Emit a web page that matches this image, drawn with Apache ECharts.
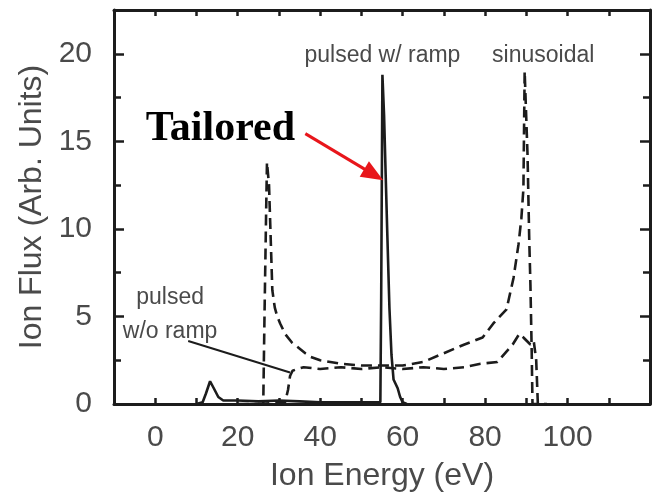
<!DOCTYPE html>
<html>
<head>
<meta charset="utf-8">
<script src="https://cdn.jsdelivr.net/npm/echarts@6/dist/echarts.min.js"></script>
<style>
  html, body { margin: 0; padding: 0; background: #ffffff; }
  #chart { width: 661px; height: 497px; }
</style>
</head>
<body>
<div id="chart"></div>
<script>
// Ion energy distributions for three bias waveforms
const rampEnergy = [10, 11.5, 12.3, 13.3, 14.2, 15.3, 16.5, 20, 25, 30, 35, 40, 50, 54.6, 54.8, 55.1, 55.5, 55.9, 56.3, 56.8, 57.3, 57.8, 58.2, 58.8, 59.4, 60, 61];
const rampFlux   = [0, 0.1, 0.6, 1.3, 0.9, 0.4, 0.2, 0.2, 0.15, 0.2, 0.15, 0.1, 0.1, 0.1, 6, 18.8, 16.5, 13, 9.6, 5.5, 2.8, 1.4, 1.2, 0.9, 0.4, 0.1, 0];

const sineEnergy = [20, 26.2, 26.5, 26.9, 27.1, 27.6, 28.0, 28.4, 29.0, 29.6, 30.3, 31.5, 33.2, 36.4, 37.6, 40, 45, 50, 55, 60, 65, 70, 75, 79.4, 82, 85.2, 86.9, 88.1, 88.8, 89.3, 89.6, 90.3, 90.7, 91.0, 91.3, 91.5, 93];
const sineFlux   = [0, 0, 5, 11, 13.8, 12.5, 9.5, 6.5, 5.5, 5.0, 4.6, 4.0, 3.5, 2.9, 2.7, 2.5, 2.3, 2.2, 2.2, 2.2, 2.4, 2.9, 3.4, 3.8, 4.6, 5.4, 7.2, 9.1, 10.6, 12.3, 19.0, 14.2, 9.5, 6.8, 3.1, 0, 0];

const noRampEnergy = [25, 31.5, 32.2, 32.7, 33.3, 34.5, 36, 40, 45, 50, 55, 60, 65, 70, 75, 78.9, 83, 86.7, 88.3, 89.3, 91.0, 91.8, 92.4, 92.8, 95];
const noRampFlux   = [0, 0.1, 0.8, 1.6, 1.9, 2.0, 2.1, 2.0, 2.1, 2.0, 2.1, 2.0, 2.1, 2.0, 2.1, 2.3, 2.4, 3.4, 4.0, 3.8, 3.4, 3.6, 2.5, 0, 0];

const xTickLabels = [0, 20, 40, 60, 80, 100];
const yTickLabels = [0, 5, 10, 15, 20];

const zip = (xs, ys) => xs.map((x, i) => [x, ys[i]]);

const ink = '#1c1c1c';
const grayText = '#4a4a4a';
const sans = 'Liberation Sans, Arial, Helvetica, sans-serif';

const frameLine = { show: true, onZero: false, lineStyle: { color: ink, width: 3 } };
const tickStyle = { color: ink, width: 2.5 };

function textPoint(coord, text, size, extra) {
  return {
    coord: coord,
    symbol: 'rect',
    symbolSize: 1,
    itemStyle: { color: 'rgba(0,0,0,0)' },
    label: Object.assign({
      show: true, position: 'inside', formatter: text,
      fontFamily: sans, fontSize: size, color: grayText, align: 'center', verticalAlign: 'middle'
    }, extra || {})
  };
}

const chart = echarts.init(document.getElementById('chart'), null, { renderer: 'canvas' });
chart.setOption({
  animation: false,
  backgroundColor: '#ffffff',
  grid: { left: 114, right: 11, top: 10, bottom: 82 },
  xAxis: [
    {
      type: 'value', min: -10, max: 120, interval: 10,
      name: 'Ion Energy (eV)', nameLocation: 'middle', nameGap: 56,
      nameTextStyle: { fontFamily: sans, fontSize: 32, color: grayText },
      axisLine: frameLine,
      axisTick: { show: true, inside: true, length: 6, lineStyle: tickStyle },
      axisLabel: {
        margin: 19, fontFamily: sans, fontSize: 30, color: grayText,
        formatter: v => (xTickLabels.indexOf(v) >= 0 ? String(v) : '')
      },
      splitLine: { show: false }
    },
    {
      type: 'value', position: 'top', min: -10, max: 120, interval: 10,
      axisLine: frameLine,
      axisTick: { show: true, inside: true, length: 6, lineStyle: tickStyle },
      axisLabel: { show: false },
      splitLine: { show: false }
    }
  ],
  yAxis: [
    {
      type: 'value', min: 0, max: 22.5, interval: 5,
      name: 'Ion Flux (Arb. Units)', nameLocation: 'middle', nameGap: 51,
      nameTextStyle: { fontFamily: sans, fontSize: 32, color: grayText },
      axisLine: frameLine,
      axisTick: { show: true, inside: true, length: 10, lineStyle: tickStyle },
      minorTick: { show: true, splitNumber: 2, length: 7, lineStyle: tickStyle },
      axisLabel: {
        margin: 22, fontFamily: sans, fontSize: 30, color: grayText,
        formatter: v => (yTickLabels.indexOf(v) >= 0 ? String(v) : '')
      },
      splitLine: { show: false }
    },
    {
      type: 'value', position: 'right', min: 0, max: 22.5, interval: 5,
      axisLine: frameLine,
      axisTick: { show: true, inside: true, length: 10, lineStyle: tickStyle },
      minorTick: { show: true, splitNumber: 2, length: 7, lineStyle: tickStyle },
      axisLabel: { show: false },
      splitLine: { show: false }
    }
  ],
  series: [
    {
      name: 'pulsed w/ ramp', type: 'line', xAxisIndex: 0, yAxisIndex: 0,
      data: zip(rampEnergy, rampFlux), showSymbol: false, symbol: 'none',
      lineStyle: { color: ink, width: 2.6 },
      markPoint: {
        silent: true,
        data: [
          textPoint([55.1, 19.9], 'pulsed w/ ramp', 23),
          textPoint([94.1, 19.9], 'sinusoidal', 23),
          textPoint([3.6, 5.1], 'pulsed\nw/o ramp', 23, { lineHeight: 34 }),
          textPoint([15.8, 15.7], 'Tailored', 42, {
            fontFamily: 'Liberation Serif, Times New Roman, serif', fontWeight: 'bold', color: '#000000'
          })
        ]
      },
      markLine: {
        silent: true,
        symbol: ['none', 'triangle'],
        symbolSize: [18, 22],
        label: { show: false },
        lineStyle: { color: '#e8161b', width: 3, type: 'solid' },
        data: [[{ coord: [36.4, 15.44] }, { coord: [53.0, 13.1] }]]
      }
    },
    {
      name: 'sinusoidal', type: 'line', xAxisIndex: 0, yAxisIndex: 0,
      data: zip(sineEnergy, sineFlux), showSymbol: false, symbol: 'none',
      lineStyle: { color: ink, width: 2.6, type: [11, 6] }
    },
    {
      name: 'pulsed w/o ramp', type: 'line', xAxisIndex: 0, yAxisIndex: 0,
      data: zip(noRampEnergy, noRampFlux), showSymbol: false, symbol: 'none',
      lineStyle: { color: ink, width: 2.6, type: [11, 6] },
      markLine: {
        silent: true,
        symbol: ['none', 'none'],
        label: { show: false },
        lineStyle: { color: ink, width: 2, type: 'solid' },
        data: [[{ coord: [8.0, 3.6] }, { coord: [32.7, 1.8] }]]
      }
    }
  ]
});
</script>
</body>
</html>
